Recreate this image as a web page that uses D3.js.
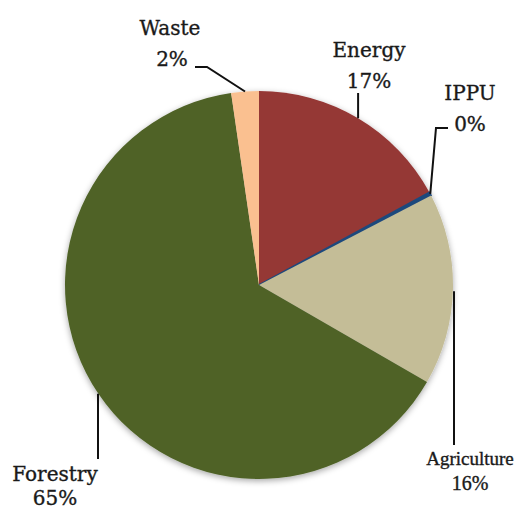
<!DOCTYPE html>
<html>
<head>
<meta charset="utf-8">
<script src="https://cdn.jsdelivr.net/npm/d3@7"></script>
<style>
  html, body { margin: 0; padding: 0; background: #fff; }
  svg { display: block; }
</style>
</head>
<body>
<svg id="chart" width="514" height="511"></svg>
<script>
// Emission shares by sector (%), clockwise from 12 o'clock
const sectors = ["Energy", "IPPU", "Agriculture", "Forestry", "Waste"];
const shares = [17.1, 0.3, 16.0, 64.5, 2.3];
const shareLabels = ["17%", "0%", "16%", "65%", "2%"];
const colors = ["#953735", "#1F497D", "#C4BD97", "#4F6228", "#FAC090"];

const svg = d3.select("#chart");
const cx = 259, cy = 285, r = 194;

const defs = svg.append("defs");
const f = defs.append("filter").attr("id", "shadow")
  .attr("x", "-10%").attr("y", "-10%").attr("width", "120%").attr("height", "120%");
f.append("feDropShadow").attr("dx", 0).attr("dy", 2)
  .attr("stdDeviation", 3).attr("flood-color", "#000").attr("flood-opacity", 0.35);

const pie = d3.pie().sort(null).value(d => d.v);
const data = sectors.map((s, i) => ({ name: s, v: shares[i], label: shareLabels[i], color: colors[i] }));
const arcs = pie(data);

const arc = d3.arc().innerRadius(0).outerRadius(r);
const edge = d3.arc().innerRadius(r).outerRadius(r);

const g = svg.append("g").attr("transform", `translate(${cx},${cy})`);
const slices = g.append("g").attr("filter", "url(#shadow)");
slices.selectAll("path").data(arcs).join("path")
  .attr("d", arc)
  .attr("fill", d => d.data.color)
  .attr("stroke", d => d.data.name === "IPPU" ? d.data.color : "none")
  .attr("stroke-width", 1.5);

// Leader lines and labels: line leaves each slice at the middle of its outer edge
const layout = {
  Energy:      { path: p => [p, [p[0], 93 - cy]], tx: 369, ty: 57, font: "'DejaVu Serif', serif", size: 20 },
  IPPU:        { path: p => [p, [436 - cx, 128 - cy], [448 - cx, 128 - cy]], tx: 470, ty: 100, font: "'DejaVu Serif', serif", size: 20 },
  Agriculture: { path: p => [[454 - cx, p[1] + 2], [454 - cx, 445 - cy]], tx: 470, ty: 465, font: "'Liberation Serif', serif", size: 19, ty2: 490 },
  Forestry:    { path: p => [[98 - cx, p[1]], [98 - cx, 459 - cy]], tx: 55, ty: 481, font: "'DejaVu Serif', serif", size: 20, ty2: 505 },
  Waste:       { path: p => [p, [207 - cx, 67 - cy], [195 - cx, 67 - cy]], tx: 170, ty: 35, font: "'DejaVu Serif', serif", size: 20 }
};

const line = d3.line();
arcs.forEach(d => {
  const L = layout[d.data.name];
  const p = edge.centroid(d);
  g.append("path")
    .attr("d", line(L.path(p)))
    .attr("fill", "none")
    .attr("stroke", "#111")
    .attr("stroke-width", 2);
  const t = svg.append("text")
    .attr("text-anchor", "middle")
    .attr("font-family", L.font)
    .attr("font-size", L.size)
    .attr("fill", "#1a1a1a")
    .attr("stroke", "#1a1a1a")
    .attr("stroke-width", 0.35);
  t.append("tspan").attr("x", L.tx).attr("y", L.ty).text(d.data.name);
  t.append("tspan").attr("x", L.tx + (d.data.name === "Waste" ? 2 : 0))
    .attr("y", L.ty2 || L.ty + 31)
    .attr("font-size", d.data.name === "Agriculture" ? 20 : L.size)
    .text(d.data.label);
});
</script>
</body>
</html>
